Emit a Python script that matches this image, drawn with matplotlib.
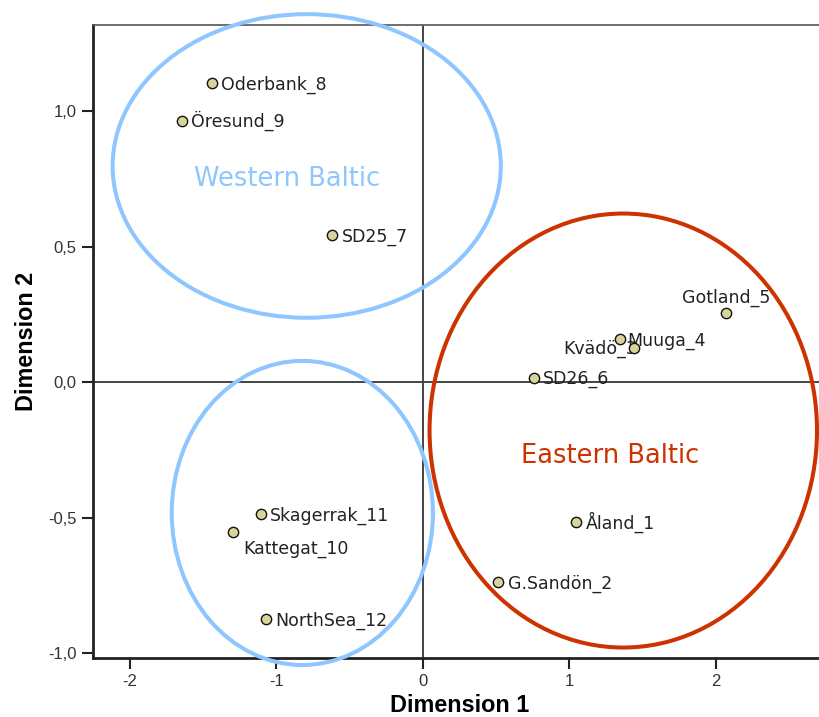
import matplotlib
matplotlib.use("Agg")
import matplotlib.pyplot as plt
from matplotlib.patches import Ellipse
from matplotlib.transforms import offset_copy

# ---- data ----
names = ["Oderbank_8", "Öresund_9", "SD25_7", "Gotland_5", "Kvädö_3", "Muuga_4",
         "SD26_6", "Åland_1", "G.Sandön_2", "Skagerrak_11", "Kattegat_10", "NorthSea_12"]
dim1 = [-1.442, -1.647, -0.620, 2.068, 1.348, 1.438, 0.757, 1.046, 0.516, -1.106, -1.295, -1.074]
dim2 = [1.103, 0.965, 0.543, 0.257, 0.159, 0.128, 0.017, -0.517, -0.738, -0.486, -0.551, -0.875]

xticks = [-2, -1, 0, 1, 2]
xticklabels = ["-2", "-1", "0", "1", "2"]
yticks = [-1.0, -0.5, 0.0, 0.5, 1.0]
yticklabels = ["-1,0", "-0,5", "0,0", "0,5", "1,0"]

# group ellipses: (cx, cy, width, height, colour)
groups = [(-0.793, 0.798, 2.65, 1.12, "#8ec6ff"),
          (-0.823, -0.482, 1.783, 1.122, "#8ec6ff"),
          (1.368, -0.178, 2.645, 1.601, "#cc3300")]
group_labels = [("Western Baltic", -0.929, 0.7255, "#8ec6ff"),
                ("Eastern Baltic", 1.280, -0.299, "#cc3300")]

# label offsets in pixels (dx, dy of caps centre, align)
offsets = {
    "Gotland_5": (0, 16, "center"),
    "Kvädö_3": (17, -8.5, "right"),
    "Muuga_4": (-6, 7.7, "left"),
    "Kattegat_10": (10, -15.5, "left"),
}

W, H = 819, 717
fig = plt.figure(figsize=(W / 100, H / 100), dpi=100)
L, R, T, B = 93, 826, 25, 657.7
ax = fig.add_axes([L / W, 1 - B / H, (R - L) / W, (B - T) / H])

ax.set_xlim(-2.252, 2.752)
ax.set_ylim(-1.016, 1.318)

ax.axhline(0, color="#444444", lw=1.4, zorder=1)
ax.axvline(0, color="#444444", lw=1.4, zorder=1)

ax.scatter(dim1, dim2, s=55, facecolor="#d8d49c", edgecolor="#111111",
           linewidth=1.0, zorder=4)

px = 72 / 100
for n, x, y in zip(names, dim1, dim2):
    dx, dy, ha = offsets.get(n, (9.5, 0, "left"))
    # convert caps centre to baseline (cap height ~12.6 px)
    tr = offset_copy(ax.transData, fig=fig, x=dx * px, y=(dy - 6.3) * px, units="points")
    ax.text(x, y, n, transform=tr, ha=ha, va="baseline", fontsize=12.5,
            family="DejaVu Sans", color="#222222", zorder=3)

for cx, cy, w, h, c in groups:
    ax.add_patch(Ellipse((cx, cy), w, h, fill=False, edgecolor=c, lw=2.9,
                         clip_on=False, zorder=5))

for t, x, y, c in group_labels:
    ax.text(x, y, t, ha="center", va="baseline", fontsize=18.5,
            family="DejaVu Sans", color=c, zorder=3)

ax.set_xticks(xticks)
ax.set_xticklabels(xticklabels)
ax.set_yticks(yticks)
ax.set_yticklabels(yticklabels)
ax.tick_params(axis="both", length=8, width=1.5, color="#222222",
               labelsize=12, labelcolor="#333333")
ax.tick_params(axis="x", pad=4)
ax.tick_params(axis="y", pad=4)
for lab in ax.get_xticklabels() + ax.get_yticklabels():
    lab.set_family("Liberation Sans")

ax.spines["left"].set_linewidth(2.0)
ax.spines["left"].set_color("#222222")
ax.spines["bottom"].set_linewidth(2.0)
ax.spines["bottom"].set_color("#222222")
ax.spines["top"].set_linewidth(1.2)
ax.spines["top"].set_color("#555555")
ax.spines["right"].set_visible(False)

ax.set_xlabel("Dimension 1", fontsize=16.8, fontweight="bold",
              family="Liberation Sans", labelpad=3)
ax.set_ylabel("Dimension 2", fontsize=16.8, fontweight="bold",
              family="Liberation Sans", labelpad=7)

fig.savefig("out.png", dpi=100)
